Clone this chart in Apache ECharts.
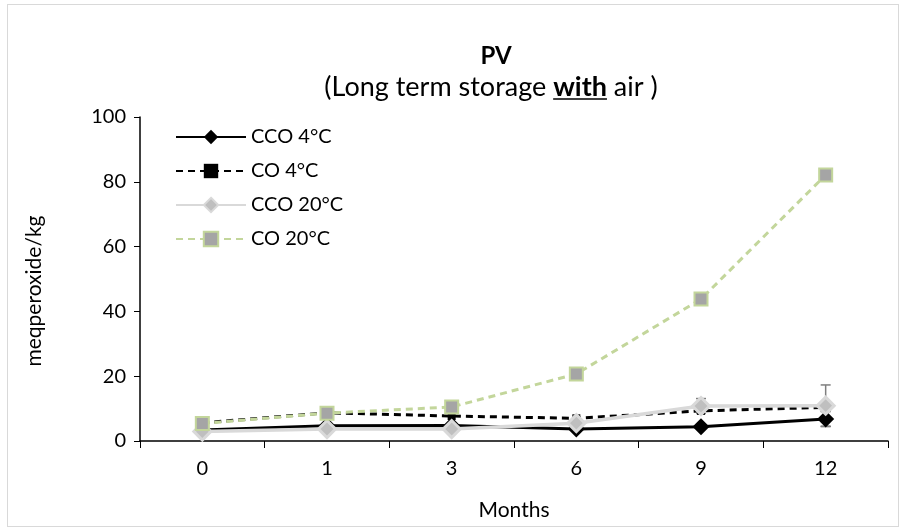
<!DOCTYPE html>
<html>
<head>
<meta charset="utf-8">
<script src="https://cdn.jsdelivr.net/npm/echarts@6/dist/echarts.min.js"></script>
<style>
  html, body { margin: 0; padding: 0; background: #fff; }
  #frame { position: absolute; left: 7px; top: 4px; width: 890px; height: 521px; border: 1px solid #d9d9d9; }
  #chart { width: 904px; height: 531px; }
</style>
</head>
<body>
<div id="frame"></div>
<div id="chart"></div>
<script>
// data
const months = ['0', '1', '3', '6', '9', '12'];
const cco4 = [3.4, 4.7, 4.8, 3.7, 4.4, 6.8];
const co4 = [5.6, 8.7, 7.7, 7.0, 9.3, 10.4];
const cco20 = [2.9, 3.7, 3.7, 5.5, 10.8, 10.9];
const co20 = [5.4, 8.6, 10.5, 20.7, 43.8, 82.1];
// error bars (+/-) for the 4°C and 20°C CCO series
const cco4Err = [0, 0, 0, 0, 0, 2.3];
const cco20Err = [0, 0, 0, 0, 2.3, 6.4];

const fontFamily = 'Lato, "Open Sans", sans-serif';
const titleSize = 24;
const subSize = 27;
const labelSize = 20;

// subtitle is laid out in three pieces so "with" can be bold and underlined
const subPre = '(Long term storage ';
const subBold = 'with';
const subPost = ' air )';
const ctx = document.createElement('canvas').getContext('2d');
ctx.font = subSize + 'px ' + fontFamily;
const wPre = ctx.measureText(subPre).width;
const wPost = ctx.measureText(subPost).width;
ctx.font = 'bold ' + subSize + 'px ' + fontFamily;
const wWith = ctx.measureText(subBold).width;
const titleX = 491;
const subLeft = titleX - (wPre + wWith + wPost) / 2;
const subY = 87;

function errorSeries(values, errs, color) {
  const data = values.map((v, i) => [i, v - errs[i], v + errs[i], errs[i]]);
  return {
    type: 'custom',
    silent: true,
    z: 1,
    renderItem(params, api) {
      if (api.value(3) === 0) return null;
      const lo = api.coord([api.value(0), api.value(1)]);
      const hi = api.coord([api.value(0), api.value(2)]);
      const cap = 5;
      const style = { stroke: color, lineWidth: 1.5 };
      return {
        type: 'group',
        children: [
          { type: 'line', shape: { x1: hi[0], y1: hi[1], x2: lo[0], y2: lo[1] }, style },
          { type: 'line', shape: { x1: hi[0] - cap, y1: hi[1], x2: hi[0] + cap, y2: hi[1] }, style },
          { type: 'line', shape: { x1: lo[0] - cap, y1: lo[1], x2: lo[0] + cap, y2: lo[1] }, style }
        ]
      };
    },
    data: data
  };
}

const subStyle = { fontFamily: fontFamily, fontSize: subSize, fill: '#000', textVerticalAlign: 'middle' };

const chart = echarts.init(document.getElementById('chart'));

const option = {
  animation: false,
  textStyle: { fontFamily: fontFamily },
  title: {
    text: 'PV',
    left: titleX,
    textAlign: 'center',
    top: 39,
    textStyle: { fontFamily: fontFamily, fontSize: titleSize, fontWeight: 'bold', color: '#000' }
  },
  graphic: [
    { type: 'text', x: subLeft, y: subY, style: Object.assign({ text: subPre }, subStyle) },
    { type: 'text', x: subLeft + wPre, y: subY, style: Object.assign({ text: subBold, fontWeight: 'bold' }, subStyle) },
    { type: 'text', x: subLeft + wPre + wWith, y: subY, style: Object.assign({ text: subPost }, subStyle) },
    {
      type: 'line',
      shape: { x1: subLeft + wPre, y1: subY + 12, x2: subLeft + wPre + wWith, y2: subY + 12 },
      style: { stroke: '#000', lineWidth: 1.6 }
    }
  ],
  legend: {
    orient: 'vertical',
    left: 170,
    top: 122,
    itemWidth: 70,
    itemHeight: 18,
    itemGap: 14,
    textStyle: { fontFamily: fontFamily, fontSize: labelSize, color: '#000' },
    data: ['CCO 4°C', 'CO 4°C', 'CCO 20°C', 'CO 20°C']
  },
  grid: { left: 140, right: 16, top: 117, bottom: 90 },
  xAxis: {
    type: 'category',
    data: months,
    boundaryGap: true,
    name: 'Months',
    nameLocation: 'middle',
    nameGap: 59,
    nameTextStyle: { fontFamily: fontFamily, fontSize: 21, color: '#000' },
    axisLine: { lineStyle: { color: '#000', width: 1.5 } },
    axisTick: { show: true, length: 7, alignWithLabel: false, lineStyle: { color: '#000' } },
    axisLabel: { fontFamily: fontFamily, fontSize: labelSize, color: '#000', margin: 18 },
    splitLine: { show: false }
  },
  yAxis: {
    type: 'value',
    min: 0,
    max: 100,
    interval: 20,
    name: 'meqperoxide/kg',
    nameLocation: 'middle',
    nameGap: 95,
    nameTextStyle: { fontFamily: fontFamily, fontSize: 21, color: '#000', padding: [0, 24, 0, 0] },
    axisLine: { show: true, lineStyle: { color: '#000', width: 1.5 } },
    axisTick: { show: true, length: 6, lineStyle: { color: '#000' } },
    axisLabel: { fontFamily: fontFamily, fontSize: labelSize, color: '#000', margin: 14 },
    splitLine: { show: false }
  },
  series: [
    errorSeries(cco4, cco4Err, '#404040'),
    errorSeries(cco20, cco20Err, '#7f7f7f'),
    {
      name: 'CCO 4°C',
      type: 'line',
      data: cco4,
      symbol: 'diamond',
      symbolSize: 17,
      z: 2,
      lineStyle: { color: '#000', width: 3 },
      itemStyle: { color: '#000' }
    },
    {
      name: 'CO 4°C',
      type: 'line',
      data: co4,
      symbol: 'rect',
      symbolSize: 8,
      z: 3,
      lineStyle: { color: '#000', width: 3, type: [7, 5] },
      itemStyle: { color: '#000' }
    },
    {
      name: 'CCO 20°C',
      type: 'line',
      data: cco20,
      symbol: 'diamond',
      symbolSize: 17,
      z: 4,
      lineStyle: { color: '#d9d9d9', width: 3.5 },
      itemStyle: { color: '#bfbfbf', borderColor: '#d9d9d9', borderWidth: 3 }
    },
    {
      name: 'CO 20°C',
      type: 'line',
      data: co20,
      symbol: 'rect',
      symbolSize: 13,
      z: 5,
      lineStyle: { color: '#c3d69b', width: 3, type: [7, 5] },
      itemStyle: { color: '#a5a5a5', borderColor: '#c3d69b', borderWidth: 2 }
    }
  ]
};

chart.setOption(option);
</script>
</body>
</html>
